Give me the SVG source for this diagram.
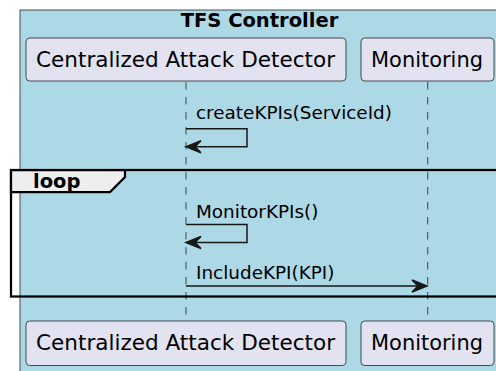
<svg xmlns="http://www.w3.org/2000/svg" width="496" height="371" viewBox="0 0 496 371">
  <style>
    .box { fill: #ADD8E6; stroke: #181818; stroke-width: 0.75; }
    .part { fill: #E2E2F0; stroke: #181818; stroke-width: 0.75; }
    .ptext { font-family: "DejaVu Sans", sans-serif; font-size: 21.3px; fill: #000000; }
    .btext { font-family: "DejaVu Sans", sans-serif; font-size: 19.5px; font-weight: bold; fill: #000000; }
    .mtext { font-family: "DejaVu Sans", sans-serif; font-size: 18.4px; fill: #000000; }
    .life { stroke: #181818; stroke-width: 0.75; stroke-dasharray: 7.5 7.5; fill: none; }
    .msg { stroke: #181818; stroke-width: 1.5; fill: none; }
    .head { fill: #181818; stroke: #181818; stroke-width: 1.5; stroke-linejoin: miter; }
    .frame { fill: none; stroke: #000000; stroke-width: 2.25; }
    .tab { fill: #EEEEEE; stroke: #000000; stroke-width: 2.25; }
  </style>

  <rect width="496" height="371" fill="#FFFFFF"/>

  <!-- grouping box -->
  <g id="tfs-controller">
    <rect class="box" x="20" y="10" width="500" height="380"/>
    <text class="btext" x="259.5" y="26.5" text-anchor="middle">TFS Controller</text>
  </g>

  <!-- lifelines -->
  <g id="lifelines">
    <line class="life" x1="186" y1="82" x2="186" y2="321"/>
    <line class="life" x1="427.7" y1="82" x2="427.7" y2="321"/>
  </g>

  <g id="cad-top">
    <rect class="part" x="26" y="38" width="320" height="43" rx="3.75"/>
    <text class="ptext" x="36" y="66.5" textLength="299" lengthAdjust="spacingAndGlyphs">Centralized Attack Detector</text>
  </g>
  <g id="monitoring-top">
    <rect class="part" x="361" y="38" width="133" height="43" rx="3.75"/>
    <text class="ptext" x="371" y="66.5" textLength="112" lengthAdjust="spacingAndGlyphs">Monitoring</text>
  </g>
  <g id="cad-bottom">
    <rect class="part" x="26" y="321" width="320" height="44.5" rx="3.75"/>
    <text class="ptext" x="36" y="350" textLength="299" lengthAdjust="spacingAndGlyphs">Centralized Attack Detector</text>
  </g>
  <g id="monitoring-bottom">
    <rect class="part" x="361" y="321" width="133" height="44.5" rx="3.75"/>
    <text class="ptext" x="371" y="350" textLength="112" lengthAdjust="spacingAndGlyphs">Monitoring</text>
  </g>

  <!-- loop fragment -->
  <g id="loop">
    <rect class="frame" x="11" y="170" width="520" height="126.5"/>
    <polygon class="tab" points="11,170 125,170 125,177 110,192 11,192"/>
    <text class="btext" x="33" y="187.5">loop</text>
  </g>

  <!-- messages -->
  <g id="connectors">
    <polyline class="msg" points="186,128.7 247,128.7 247,146.7 187,146.7"/>
    <polygon class="head" points="201,140.7 186,146.7 201,152.7 195,146.7"/>
    <text class="mtext" x="196" y="119">createKPIs(ServiceId)</text>

    <polyline class="msg" points="186,224.5 247,224.5 247,242.5 187,242.5"/>
    <polygon class="head" points="201,236.5 186,242.5 201,248.5 195,242.5"/>
    <text class="mtext" x="196" y="218">MonitorKPIs()</text>

    <line class="msg" x1="186" y1="286" x2="426" y2="286"/>
    <polygon class="head" points="412,280 427,286 412,292 418,286"/>
    <text class="mtext" x="196" y="279">IncludeKPI(KPI)</text>
  </g>
</svg>
